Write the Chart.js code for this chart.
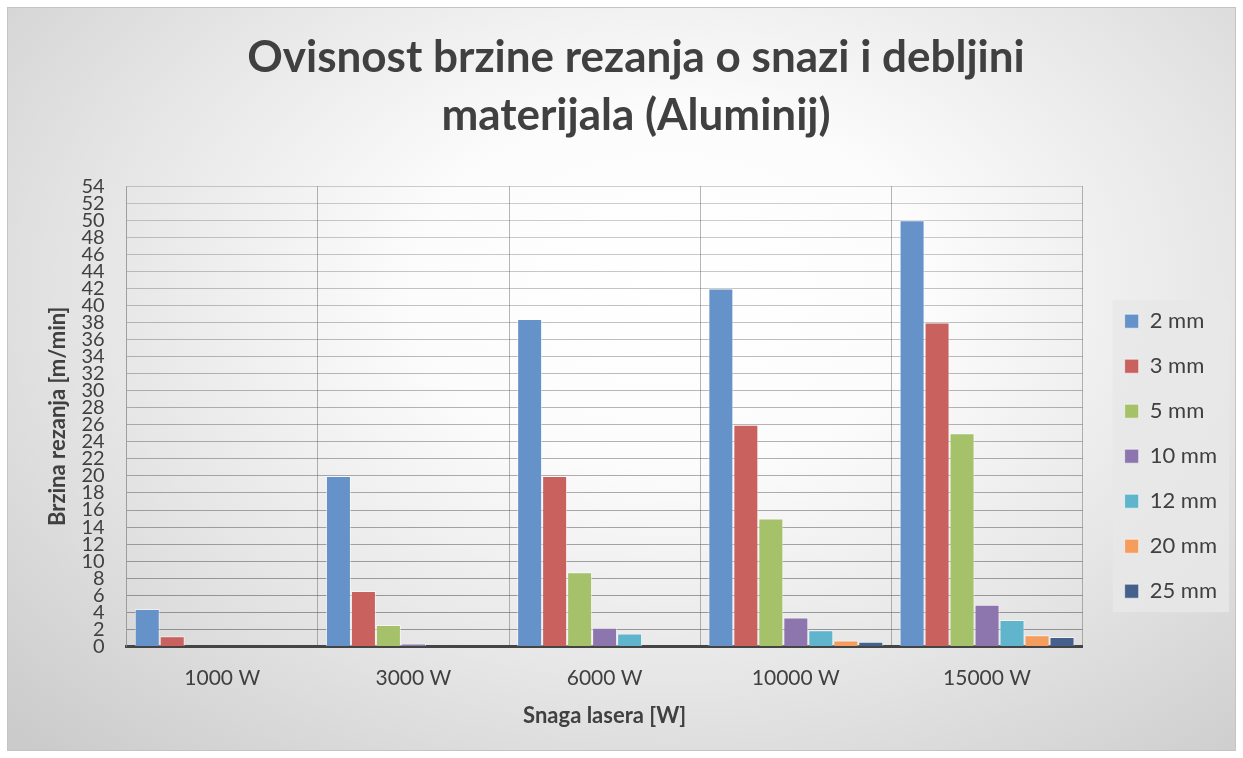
<!DOCTYPE html>
<html lang="hr">
<head>
<meta charset="utf-8">
<title>Ovisnost brzine rezanja o snazi i debljini materijala (Aluminij)</title>
<script src="https://cdn.jsdelivr.net/npm/chart.js@4/dist/chart.umd.min.js"></script>
<style>
  html, body { margin:0; padding:0; background:#fff; }
  .card{
    position:absolute; left:7px; top:7px; width:1229px; height:744px;
    box-sizing:border-box; border:1px solid #c4c4c4;
    background: radial-gradient(ellipse 75% 85% at 54% 38%, #ffffff 0%, #fcfcfc 28%, #e6e6e6 62%, #cbcbcb 100%);
  }
  canvas{ display:block; }
</style>
</head>
<body>
<div class="card"><canvas id="chart" width="1227" height="742"></canvas></div>
<script>
/* =========================================================
   Brzina rezanja vs snaga lasera — grouped bars (Aluminij)
   ========================================================= */

const CATEGORIES = ["1000 W", "3000 W", "6000 W", "10000 W", "15000 W"];

// one array per thickness, values in m/min
const SERIES_NAMES = ["2 mm", "3 mm", "5 mm", "10 mm", "12 mm", "20 mm", "25 mm"];
const V_2MM  = [4.4, 20, 38.4, 42, 50];
const V_3MM  = [1.2, 6.5, 20, 26, 38];
const V_5MM  = [0, 2.5, 8.7, 15, 25];
const V_10MM = [0, 0.35, 2.2, 3.4, 4.9];
const V_12MM = [0, 0, 1.5, 1.9, 3.1];
const V_20MM = [0, 0, 0, 0.7, 1.3];
const V_25MM = [0, 0, 0, 0.55, 1.1];

const Y_MIN = 0, Y_MAX = 54, Y_STEP = 2;

const COLORS = ["#6592c8", "#c9615f", "#a5c26a", "#8c76ad", "#60b4cb", "#f59d5c", "#45618b"];
const TEXT = "#404040";
const FONT = "Lato, 'Open Sans', sans-serif";

const seriesValues = [V_2MM, V_3MM, V_5MM, V_10MM, V_12MM, V_20MM, V_25MM];

// light panel behind the legend, sized from the legend's own hit boxes
const legendPanel = {
  id: "legendPanel",
  beforeDraw(chart){
    const lg = chart.legend;
    if(!lg || !lg.legendHitBoxes || !lg.legendHitBoxes.length) return;
    const hb = lg.legendHitBoxes;
    const l = Math.min(...hb.map(b => b.left)) - 12;
    const r = Math.max(...hb.map(b => b.left + b.width)) + 12;
    const t = Math.min(...hb.map(b => b.top)) - 10;
    const bt = Math.max(...hb.map(b => b.top + b.height)) + 10;
    const ctx = chart.ctx;
    ctx.save();
    ctx.fillStyle = "rgba(232,232,232,0.85)";
    ctx.fillRect(l, t, r - l, bt - t);
    ctx.restore();
  }
};

function gridColor(ctx){
  // lines get a little darker toward the bottom, like the original
  const v = ctx.tick ? ctx.tick.value : 0;
  const a = 0.65 - (v / Y_MAX) * 0.35;
  return `rgba(100,100,100,${a.toFixed(2)})`;
}

function buildChart(){
  const el = document.getElementById("chart");
  new Chart(el, {
    type: "bar",
    data: {
      labels: CATEGORIES,
      datasets: SERIES_NAMES.map((name, i) => ({
        label: name,
        data: seriesValues[i],
        backgroundColor: COLORS[i],
        borderColor: "rgba(255,255,255,0.55)",
        borderWidth: 1,
        categoryPercentage: 0.915,
        barPercentage: 1.0
      }))
    },
    options: {
      responsive: false,
      animation: false,
      layout: { padding: { left: 37, right: 8, top: 0, bottom: 21 } },
      plugins: {
        title: {
          display: true,
          text: ["Ovisnost brzine rezanja o snazi i debljini", "materijala (Aluminij)"],
          color: TEXT,
          font: { family: FONT, size: 44, weight: "bold", lineHeight: 1.32 },
          padding: { top: 21, bottom: 41 }
        },
        legend: {
          position: "right",
          align: "center",
          title: { display: true, text: "", padding: { top: 161, bottom: 0 } },
          labels: {
            color: TEXT,
            font: { family: FONT, size: 22 },
            boxWidth: 14,
            boxHeight: 14,
            padding: 23
          }
        },
        tooltip: { enabled: true }
      },
      scales: {
        x: {
          grid: {
            offset: true,
            drawTicks: false,
            color: "rgba(110,110,110,0.5)"
          },
          border: { color: "#444", width: 3 },
          ticks: { color: TEXT, font: { family: FONT, size: 21 }, padding: 19 },
          title: {
            display: true,
            text: "Snaga lasera [W]",
            color: TEXT,
            font: { family: FONT, size: 22, weight: "bold" },
            padding: { top: -7, bottom: 0 }
          }
        },
        y: {
          min: Y_MIN,
          max: Y_MAX,
          grid: { drawTicks: false, color: gridColor },
          border: { color: "rgba(150,150,150,0.6)", width: 1 },
          ticks: {
            stepSize: Y_STEP,
            autoSkip: false,
            color: TEXT,
            font: { family: FONT, size: 20, lineHeight: 0.85 },
            padding: 22
          },
          title: {
            display: true,
            text: "Brzina rezanja [m/min]",
            color: TEXT,
            font: { family: FONT, size: 22, weight: "bold" },
            padding: { top: 0, bottom: -12 }
          }
        },
        // empty spacer between the plot and the legend
        gap: {
          type: "linear",
          position: "right",
          display: true,
          grid: { display: false },
          ticks: { display: false },
          border: { display: false },
          afterFit(scale){ scale.width = 19; }
        }
      }
    },
    plugins: [legendPanel]
  });
}

buildChart();
</script>
</body>
</html>
